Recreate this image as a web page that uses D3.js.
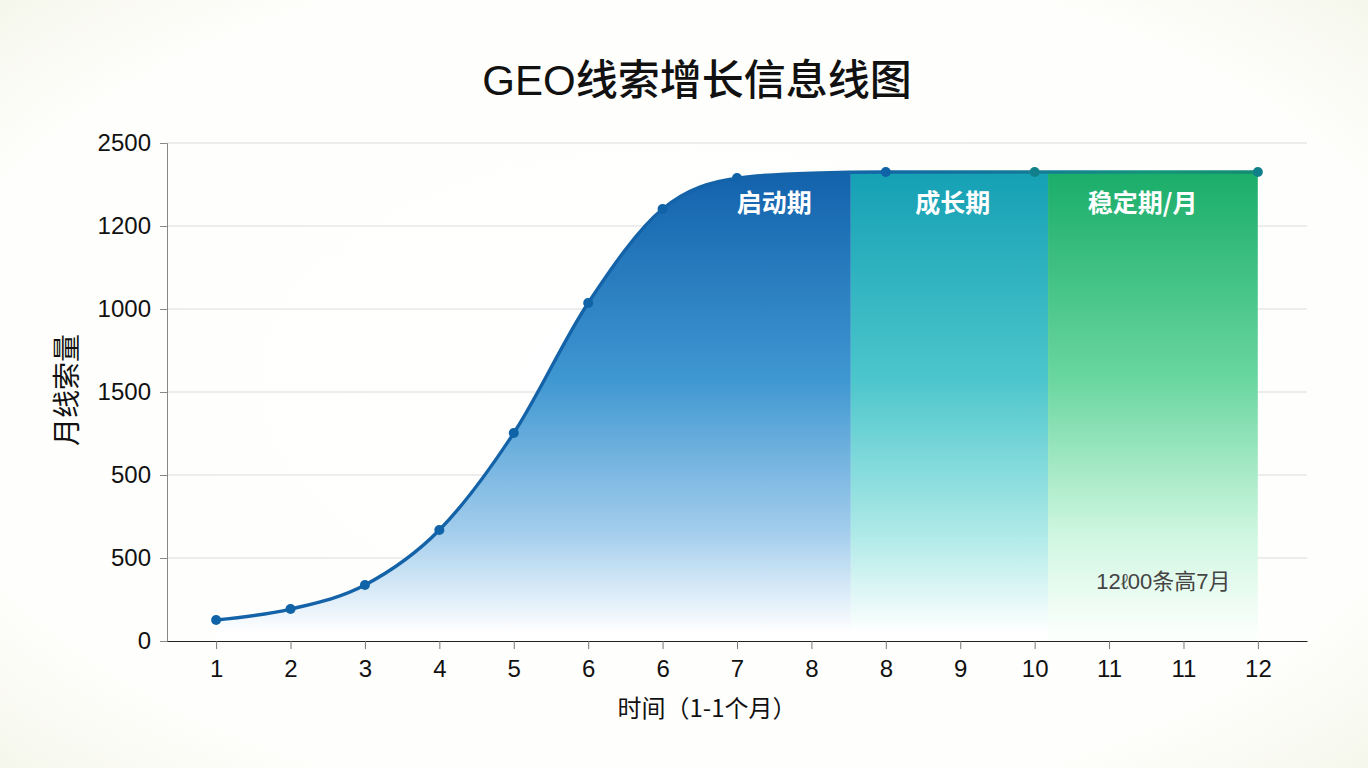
<!DOCTYPE html>
<html><head><meta charset="utf-8">
<script src="https://cdn.jsdelivr.net/npm/d3@7/dist/d3.min.js"></script>
<style>
html,body{margin:0;padding:0;background:#f8f8f0;}
svg{display:block;}
</style></head>
<body>
<svg id="chart" width="1368" height="768"></svg>
<script>
// ---- data ----
const title = "GEO线索增长信息线图";
const xTickLabels = ["1","2","3","4","5","6","6","7","8","8","9","10","11","11","12"];
const leads = [101,154,270,535,1002,1629,2082,2231,2255,2260,2260,2260,2260,2260,2260];
const markerIdx = [0,1,2,3,4,5,6,7,9,11,14];
const yTicks = [0,400,800,1200,1600,2000,2400];
const yTickLabels = ["0","500","500","1500","1000","1200","2500"];
const phaseNames = ["启动期","成长期","稳定期/月"];
const phaseStarts = [0, 8.53, 11.18];
const phaseEnds = [8.53, 11.18, 14];
const phaseLabelAt = [7.5, 9.9, 12.45];
const noteText = "12ℓ00条高7月";
const noteAt = [12.73, 250];
const xTitle = "时间（1-1个月）";
const yTitle = "月线索量";

// ---- layout ----
const W = 1368, H = 768;
const L = 167, R = 1307, T = 143, B = 641;
const svg = d3.select("#chart");
const defs = svg.append("defs");

// soft background
const bg = defs.append("radialGradient").attr("id","bgGrad").attr("cx","50%").attr("cy","50%").attr("r","70%");
bg.append("stop").attr("offset","0%").attr("stop-color","#ffffff");
bg.append("stop").attr("offset","80%").attr("stop-color","#fefefc");
bg.append("stop").attr("offset","100%").attr("stop-color","#f6f7ec");
svg.append("rect").attr("width",W).attr("height",H).attr("fill","url(#bgGrad)");

const x = d3.scaleLinear().domain([-0.66, 14.66]).range([L, R]);
const y = d3.scaleLinear().domain([0, 2400]).range([B, T]);

// title
svg.append("text").attr("x", 697).attr("y", 95).attr("text-anchor","middle")
  .attr("font-family","'Liberation Sans','Noto Sans CJK SC',sans-serif")
  .attr("font-size", 42).attr("font-weight",500).attr("fill","#111").text(title);

// grid
svg.append("g").selectAll("line").data(yTicks.slice(1)).join("line")
  .attr("x1", L).attr("x2", R).attr("y1", d=>y(d)).attr("y2", d=>y(d))
  .attr("stroke","#dcdcdc").attr("stroke-width",1);

// gradients for phases
const gradDefs = [
  [["0","#1262ac"],["0.45","#3f97d1"],["0.78","#a3cdec"],["1","#ffffff"]],
  [["0","#15a0b4"],["0.45","#4cc6cc"],["0.78","#ace9e7"],["1","#ffffff"]],
  [["0","#1aad6a"],["0.45","#6ad6a0"],["0.78","#cdf6df"],["1","#fbfffc"]]
];
gradDefs.forEach((stops,i)=>{
  const g = defs.append("linearGradient").attr("id","ph"+i)
    .attr("gradientUnits","userSpaceOnUse").attr("x1",0).attr("x2",0)
    .attr("y1", y(2260)).attr("y2", B-8);
  stops.forEach(s=>g.append("stop").attr("offset",s[0]).attr("stop-color",s[1]));
});

const pts = leads.map((v,i)=>[i,v]);
const area = d3.area().x(d=>x(d[0])).y0(B).y1(d=>y(d[1])).curve(d3.curveMonotoneX);
const line = d3.line().x(d=>x(d[0])).y(d=>y(d[1])).curve(d3.curveMonotoneX);

defs.append("clipPath").attr("id","areaClip").append("path").attr("d", area(pts));

const bands = svg.append("g").attr("clip-path","url(#areaClip)");
phaseNames.forEach((n,i)=>{
  bands.append("rect").attr("x", x(phaseStarts[i])).attr("y", T)
    .attr("width", x(phaseEnds[i]) - x(phaseStarts[i])).attr("height", B - T)
    .attr("fill","url(#ph"+i+")");
});

// line gradient
const lg = defs.append("linearGradient").attr("id","lineGrad")
  .attr("gradientUnits","userSpaceOnUse").attr("x1", x(0)).attr("x2", x(14)).attr("y1",0).attr("y2",0);
[["0","#1463a8"],["0.6","#1463a8"],["0.78","#137a98"],["0.9","#14957a"],["1","#138a72"]]
  .forEach(s=>lg.append("stop").attr("offset",s[0]).attr("stop-color",s[1]));

svg.append("path").attr("d", line(pts)).attr("fill","none")
  .attr("stroke","url(#lineGrad)").attr("stroke-width",3.4);

svg.append("g").selectAll("circle").data(markerIdx).join("circle")
  .attr("cx", i=>x(i)).attr("cy", i=>y(leads[i])).attr("r", 5)
  .attr("fill", i=> i>=11 ? "#12808a" : "#1063a6");

// phase labels
svg.append("g").selectAll("text").data(phaseNames).join("text")
  .attr("x",(d,i)=>x(phaseLabelAt[i])).attr("y", y(2260)+40)
  .attr("text-anchor","middle").attr("font-family","'Noto Sans CJK SC',sans-serif")
  .attr("font-size",25).attr("font-weight",700).attr("fill","#ffffff").text(d=>d);

// note
svg.append("text").attr("x", x(noteAt[0])).attr("y", y(noteAt[1]))
  .attr("text-anchor","middle").attr("font-family","'Liberation Sans','Noto Sans CJK SC',sans-serif")
  .attr("font-size",22).attr("fill","#444").text(noteText);

// axes
const yAxis = d3.axisLeft(y).tickValues(yTicks).tickFormat((d,i)=>yTickLabels[i]).tickSize(7).tickPadding(9);
const yg = svg.append("g").attr("transform",`translate(${L},0)`).call(yAxis);
yg.select(".domain").attr("stroke","#888");
yg.selectAll(".tick line").attr("stroke","#888");
yg.selectAll("text").attr("font-family","'Liberation Sans',Arial,sans-serif").attr("font-size",24).attr("fill","#111");

const xAxis = d3.axisBottom(x).tickValues(d3.range(xTickLabels.length)).tickFormat((d,i)=>xTickLabels[i]).tickSize(8).tickSizeOuter(0).tickPadding(11);
const xg = svg.append("g").attr("transform",`translate(0,${B})`).call(xAxis);
xg.select(".domain").attr("stroke","#222").attr("stroke-width",1.2);
xg.selectAll(".tick line").attr("stroke","#777");
xg.selectAll("text").attr("font-family","'Liberation Sans',Arial,sans-serif").attr("font-size",24).attr("fill","#111");

// axis titles
svg.append("text").attr("x", 707).attr("y", 717).attr("text-anchor","middle")
  .attr("font-family","'Noto Sans CJK SC',sans-serif").attr("font-size",24).attr("fill","#111").text(xTitle);
svg.append("text").attr("transform","translate(77,390) rotate(-90)").attr("text-anchor","middle")
  .attr("font-family","'Noto Sans CJK SC',sans-serif").attr("font-size",28).attr("fill","#111").text(yTitle);
</script>
</body></html>
